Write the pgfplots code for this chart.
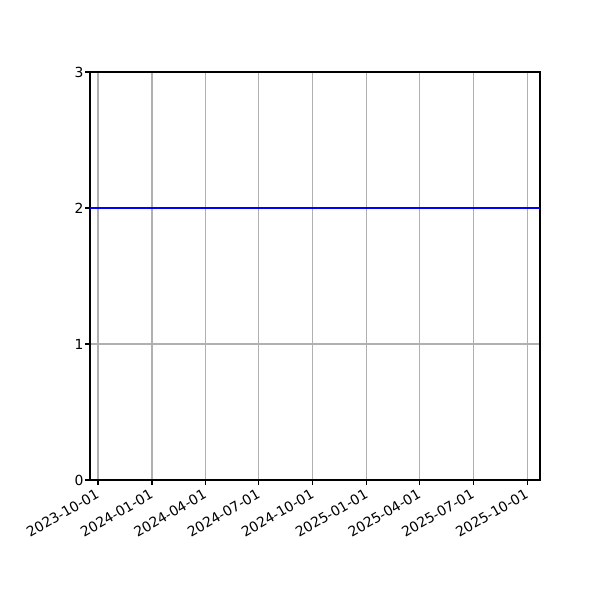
\documentclass[border=0pt]{standalone}
\usepackage{pgfplots}
\pgfplotsset{compat=1.18}
\usepackage{fontspec}
\setmainfont{DejaVu Sans}
\definecolor{gridgray}{HTML}{B0B0B0}
\begin{document}
\begin{tikzpicture}[x=0.72pt,y=0.72pt]
% page of 600 x 600 px, 1 px = 0.72 pt
\path[use as bounding box] (0,0) rectangle (600,600);
\begin{axis}[
at={(64.8pt,86.4pt)}, anchor=south west,
scale only axis,
width=324pt, height=293.76pt,
xmin=-13.6, xmax=753,
ymin=0, ymax=3,
ytick={0,1,2,3},
xtick={0,92,183,274,366,458,548,639,731},
xticklabels={2023-10-01,2024-01-01,2024-04-01,2024-07-01,2024-10-01,2025-01-01,2025-04-01,2025-07-01,2025-10-01},
xticklabel style={rotate=30, anchor=north east, xshift=-2pt, inner sep=1pt},
yticklabel style={inner sep=1pt},
xtick pos=bottom, ytick pos=left,
tick align=outside,
major tick length=3.5pt,
tick style={black, line width=0.8pt},
axis line style={line width=0.8pt},
grid=major,
major grid style={gridgray, line width=0.8pt},
tick label style={font=\fontsize{10}{12}\selectfont},
/pgf/number format/assume math mode=true,
]
\addplot[blue, line width=1.5pt] coordinates {(-13.6,2) (753,2)};
\end{axis}
\end{tikzpicture}
\end{document}
